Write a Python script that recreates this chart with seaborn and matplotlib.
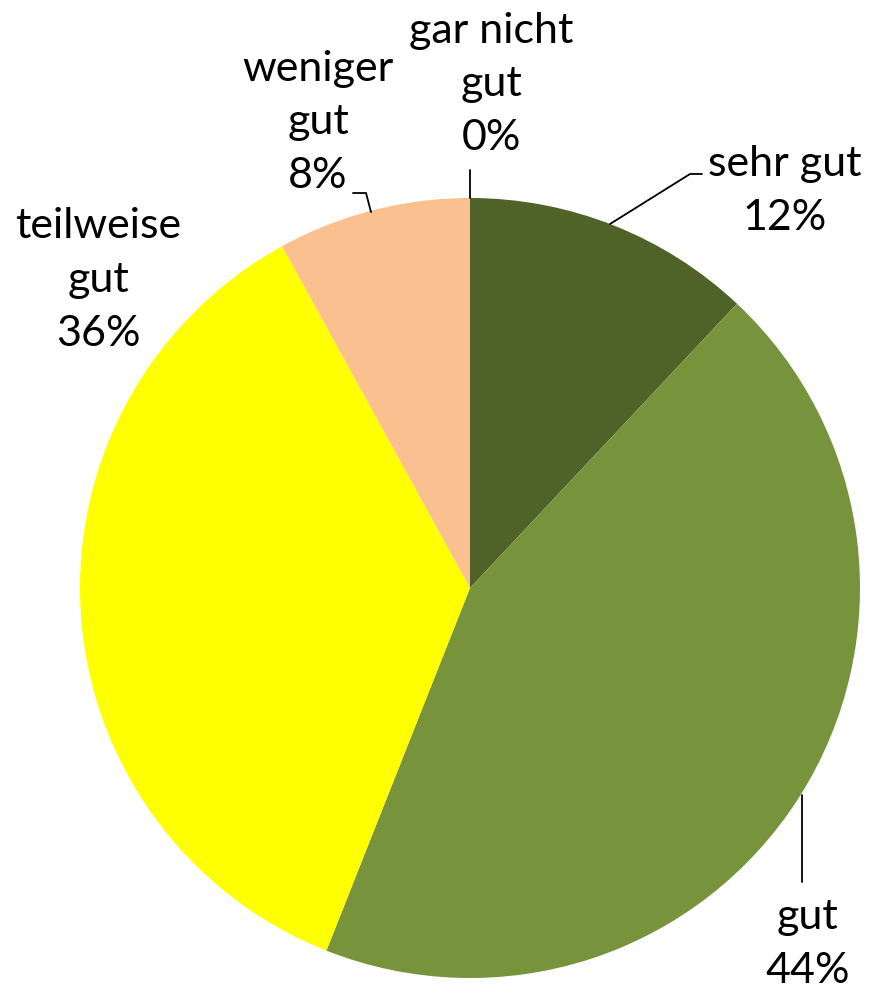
import numpy as np
import matplotlib
matplotlib.use("Agg")
import matplotlib.pyplot as plt
import seaborn as sns

# Data
labels = ["sehr gut", "gut", "teilweise gut", "weniger gut", "gar nicht gut"]
label_text = ["sehr gut\n12%", "gut\n44%", "teilweise\ngut\n36%", "weniger\ngut\n8%", "gar nicht\ngut\n0%"]
shares = [12, 44, 36, 8, 0]
colors = ["#4F6228", "#77933C", "#FFFF00", "#FAC090", "#C0504D"]

sns.set_theme(style="white")
plt.rcParams["font.family"] = ["Lato", "DejaVu Sans"]

W, H = 871, 991
fig = plt.figure(figsize=(W / 100, H / 100), dpi=100)
ax = fig.add_axes([0, 0, 1, 1])

cx, cy, r = 470, H - 588, 390
ax.pie(shares, colors=colors, startangle=90, counterclock=False,
       center=(cx, cy), radius=r, frame=True,
       wedgeprops=dict(linewidth=0))
ax.set_xlim(0, W)
ax.set_ylim(0, H)
ax.set_aspect("equal")
ax.axis("off")

# label positions (pixel coords, y from top) and leader lines
text_pos = [(785, 191), (808, 944), (98, 280), (318, 122), (491, 84)]
leaders = [
    [(610, 224), (690, 174), (702, 174)],
    [(802, 795), (802, 882)],
    None,
    [(371, 212), (366, 193), (353, 193)],
    [(470, 198), (470, 170)],
]

for txt, (tx, ty), ld in zip(label_text, text_pos, leaders):
    ax.text(tx, H - ty, txt, ha="center", va="center", fontsize=31,
            color="black", linespacing=1.5)
    if ld is not None:
        xs = [p[0] for p in ld]
        ys = [H - p[1] for p in ld]
        ax.plot(xs, ys, color="black", linewidth=1.3)

fig.savefig("out.png", dpi=100)
